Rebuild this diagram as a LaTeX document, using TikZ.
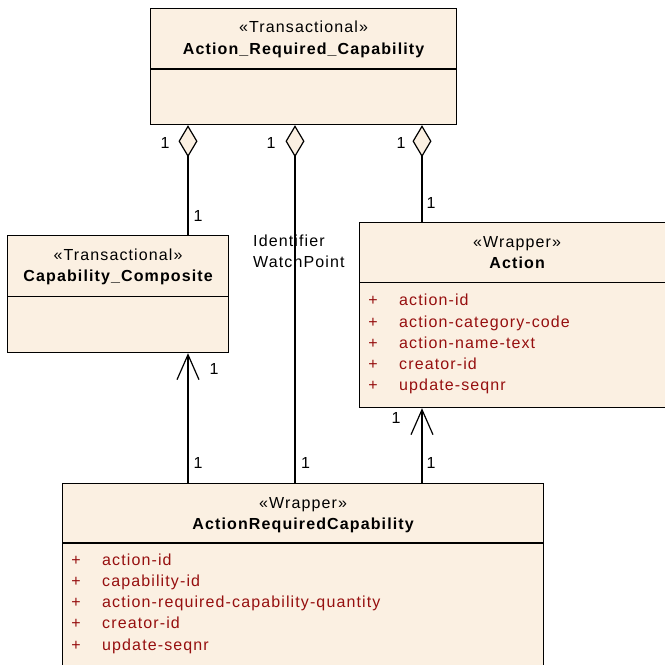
\documentclass[tikz,border=0pt]{standalone}
\usepackage{fontspec}
\setmainfont{Liberation Sans}[LetterSpace=7]
\usetikzlibrary{arrows.meta}
\usetikzlibrary{shapes.geometric}
\usetikzlibrary{positioning}
\definecolor{classfill}{RGB}{251,240,226}
\definecolor{attrred}{RGB}{150,15,15}
\tikzset{cls/.style={draw, fill=classfill, line width=1.2pt, inner sep=0pt, anchor=north west}}
\tikzset{stereo/.style={font=\fontsize{16}{21}\selectfont, inner sep=0pt}}
\tikzset{cname/.style={font=\fontsize{16}{19}\selectfont\bfseries, inner sep=0pt}}
\tikzset{attr/.style={font=\fontsize{16}{19}\selectfont, text=attrred, inner sep=0pt}}
\tikzset{mult/.style={font=\fontsize{16}{19}\selectfont, inner sep=0pt}}
\tikzset{aggr/.style={line width=1.2pt, {Diamond[length=32pt, width=19pt, fill=classfill]}-}}
\tikzset{nav/.style={line width=1.2pt, -{Straight Barb[length=25pt, width=22pt]}}}
% header of a class box: name, stereotype, title, header height
\newcommand{\classhead}[4]{
  \node[stereo, anchor=base] (#1-st) at ([yshift=-25pt]#1.north) {«#2»};
  \node[cname, anchor=base] (#1-nm) at ([yshift=-46.5pt]#1.north) {#3};
  \draw[line width=1.2pt] ([yshift=-#4]#1.north west) -- ([yshift=-#4]#1.north east);
}
% attribute rows: name, left x, first baseline, list
\newcommand{\attrrows}[4]{
  \foreach \t [count=\i] in {#4} {
    \node[attr, anchor=base] (#1-p\i) at ({#2+14},{#3+21.3*(\i-1)}) {+};
    \node[attr, anchor=base west] (#1-a\i) at ({#2+40},{#3+21.3*(\i-1)}) {\t};
  }
}
\begin{document}
\begin{tikzpicture}[x=1pt, y=-1pt]
    \useasboundingbox (0,0) rectangle (665,665);
    \clip (0,0) rectangle (665,665);
    % classes
    \node[cls, minimum width=306pt, minimum height=116.5pt] (arc) at (150,7.5) {};
    \classhead{arc}{Transactional}{Action\_Required\_Capability}{61.5pt}
    \node[cls, minimum width=221pt, minimum height=117pt] (capcomp) at (7,235) {};
    \classhead{capcomp}{Transactional}{Capability\_Composite}{61.5pt}
    \node[cls, minimum width=315pt, minimum height=185pt] (action) at (359,222) {};
    \classhead{action}{Wrapper}{Action}{60.5pt}
    \attrrows{action}{359}{305.7}{action-id, action-category-code, action-name-text, creator-id, update-seqnr}
    \node[cls, minimum width=481pt, minimum height=220pt] (arcw) at (62,483) {};
    \classhead{arcw}{Wrapper}{ActionRequiredCapability}{60pt}
    \attrrows{arcw}{62}{565}{action-id, capability-id, action-required-capability-quantity, creator-id, update-seqnr}
    % connector columns
    \coordinate (pL) at (188,0);
    \coordinate (pM) at (295,0);
    \coordinate (pR) at (422,0);
    % aggregations
    \draw[aggr] (arc.south -| pL) -- (capcomp.north -| pL)
      node[mult, at start, xshift=-23pt, yshift=-18pt] (m1s) {1}
      node[mult, at end, xshift=10pt, yshift=19pt] (m1e) {1};
    \draw[aggr] (arc.south -| pM) -- (arcw.north -| pM)
      node[mult, at start, xshift=-24pt, yshift=-18pt] (m2s) {1}
      node[mult, at end, xshift=10.5pt, yshift=20pt] (m2e) {1};
    \draw[aggr] (arc.south -| pR) -- (action.north -| pR)
      node[mult, at start, xshift=-21pt, yshift=-18pt] (m3s) {1}
      node[mult, at end, xshift=9pt, yshift=19pt] (m3e) {1};
    \node[stereo, anchor=north west, align=left] (role) at (253,234.5) {Identifier\\WatchPoint};
    % navigable associations
    \draw[nav] (arcw.north -| pL) -- (capcomp.south -| pL)
      node[mult, at start, xshift=10pt, yshift=20pt] (m4s) {1}
      node[mult, at end, xshift=26pt, yshift=-16pt] (m4e) {1};
    \draw[nav] (arcw.north -| pR) -- (action.south -| pR)
      node[mult, at start, xshift=9pt, yshift=20pt] (m5s) {1}
      node[mult, at end, xshift=-26pt, yshift=-10pt] (m5e) {1};
\end{tikzpicture}
\end{document}
